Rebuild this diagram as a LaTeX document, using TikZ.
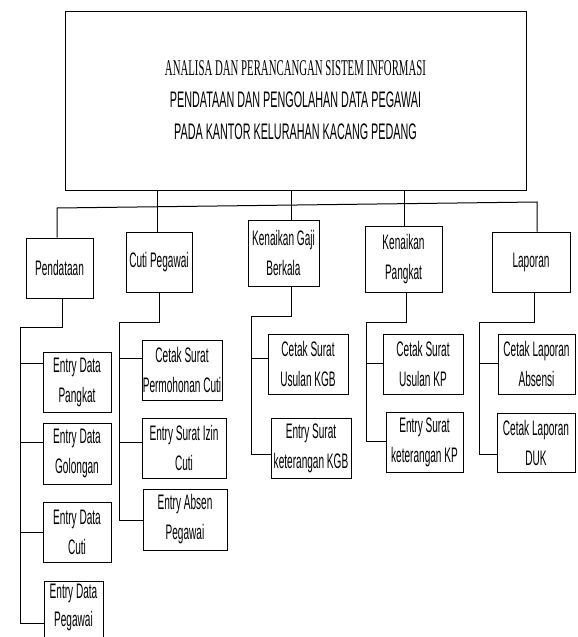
\documentclass[tikz,border=0pt]{standalone}
\usepackage{fontspec}
\newfontfamily\nar[FakeStretch=0.48]{Liberation Sans}
\newfontfamily\narserif[FakeStretch=0.48]{Liberation Serif}
\begin{document}
\begin{tikzpicture}[x=1pt,y=-1pt,
  box/.style={draw=black,line width=1pt,rectangle,inner sep=0pt,align=center,
    font=\nar\fontsize{21}{30}\selectfont},
  conn/.style={draw=black,line width=1pt},
  txt/.style={inner sep=0pt,align=center,font=\nar\fontsize{21}{28}\selectfont}]
\useasboundingbox (0,0) rectangle (578,637);
\clip (0,0) rectangle (578,637);
% title
\node[box,minimum width=461pt,minimum height=179pt,font=\nar\fontsize{22.5}{32}\selectfont] (top) at (295.5,100.5)
  {{\narserif ANALISA DAN PERANCANGAN SISTEM INFORMASI}\\PENDATAAN DAN PENGOLAHAN DATA PEGAWAI\\PADA KANTOR KELURAHAN KACANG PEDANG};
% level 1
\node[box,minimum width=67pt,minimum height=60pt] (pend) at (59.5,268) {Pendataan};
\node[box,minimum width=66pt,minimum height=60pt] (cuti) at (159,262) {Cuti Pegawai};
\node[box,minimum width=71pt,minimum height=66pt] (kgb) at (283.5,253) {Kenaikan Gaji\\Berkala};
\node[box,minimum width=77pt,minimum height=66pt] (kp) at (403.5,259) {Kenaikan\\Pangkat};
\node[box,minimum width=78pt,minimum height=60pt] (lap) at (531,262) {Laporan};
% pendataan children
\node[box,minimum width=68pt,minimum height=60pt] (p1) at (77,382) {Entry Data\\Pangkat};
\node[box,minimum width=68pt,minimum height=61pt] (p2) at (77,453.5) {Entry Data\\Golongan};
\node[box,minimum width=68pt,minimum height=60pt] (p3) at (77,532) {Entry Data\\Cuti};
\node[box,minimum width=59pt,minimum height=80pt,anchor=north] (p4) at (73.5,581) {};
\node[txt,anchor=north] (p4t) at ([yshift=-3pt]p4.north) {Entry Data\\Pegawai};
% cuti children
\node[box,minimum width=80pt,minimum height=60pt] (c1) at (182,370) {Cetak Surat\\Permohonan Cuti};
\node[box,minimum width=84pt,minimum height=60pt] (c2) at (184,448) {Entry Surat Izin\\Cuti};
\node[box,minimum width=84pt,minimum height=61pt] (c3) at (185,519.5) {Entry Absen\\Pegawai};
% kgb children
\node[box,minimum width=80pt,minimum height=60pt] (k1) at (308,364) {Cetak Surat\\Usulan KGB};
\node[box,minimum width=80pt,minimum height=60pt] (k2) at (311,448) {Entry Surat\\keterangan KGB};
% kp children
\node[box,minimum width=80pt,minimum height=60pt] (kp1) at (423,364) {Cetak Surat\\Usulan KP};
\node[box,minimum width=77pt,minimum height=60pt] (kp2) at (424.5,442) {Entry Surat\\keterangan KP};
% laporan children
\node[box,minimum width=77pt,minimum height=60pt] (l1) at (536.5,364) {Cetak Laporan\\Absensi};
\node[box,minimum width=78pt,minimum height=59pt] (l2) at (536,442.5) {Cetak Laporan\\DUK};
% top connectors
\draw[conn] (top.south -| 157,0) -- (cuti.north -| 157,0);
\draw[conn] (top.south -| 291,0) -- (kgb.north -| 291,0);
\draw[conn] (top.south -| 404,0) -- (kp.north -| 404,0);
\draw[conn] (pend.north -| 57,0) -- (57,208) -- (537,202) -- (lap.north -| 537,0);
% pendataan tree
\draw[conn] (pend.south -| 62,0) -- (62,327) -- (20,327) -- (20,623) -- (p4.west |- 0,623);
\draw[conn] (20,363) -- (p1.west |- 0,363);
\draw[conn] (20,442) -- (p2.west |- 0,442);
\draw[conn] (20,532) -- (p3.west |- 0,532);
% cuti tree
\draw[conn] (cuti.south -| 159,0) -- (159,322) -- (119,322) -- (119,520) -- (c3.west |- 0,520);
\draw[conn] (119,358) -- (c1.west |- 0,358);
\draw[conn] (119,442) -- (c2.west |- 0,442);
% kgb tree
\draw[conn] (kgb.south -| 291,0) -- (291,316) -- (251,316) -- (251,454) -- (k2.west |- 0,454);
\draw[conn] (251,358) -- (k1.west |- 0,358);
% kp tree
\draw[conn] (kp.south -| 406,0) -- (406,322) -- (366,322) -- (366,441) -- (kp2.west |- 0,441);
\draw[conn] (366,363) -- (kp1.west |- 0,363);
% laporan tree
\draw[conn] (lap.south -| 534,0) -- (534,322) -- (479,322) -- (479,454) -- (l2.west |- 0,454);
\draw[conn] (479,363) -- (l1.west |- 0,363);
\end{tikzpicture}
\end{document}
